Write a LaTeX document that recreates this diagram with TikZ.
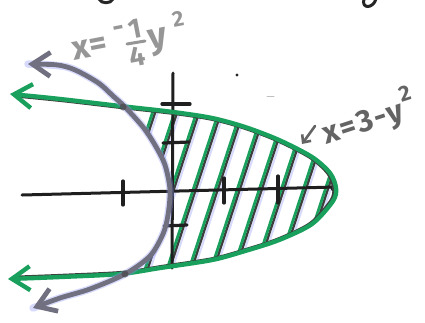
\documentclass[tikz,border=0pt]{standalone}
\usepackage{fontspec}
\setmainfont{Fira Sans}
\usetikzlibrary{arrows.meta}
\definecolor{mkgreen}{RGB}{24,160,92}
\definecolor{mkdark}{RGB}{62,62,62}
\definecolor{mkgray}{RGB}{112,112,128}
\definecolor{mkblue}{RGB}{140,150,245}
\definecolor{labgray}{RGB}{150,150,150}
\definecolor{labdark}{RGB}{100,100,100}
\begin{document}
\begin{tikzpicture}[x=1pt,y=-1pt,line cap=round,line join=round,
  axisline/.style={line width=3pt,black!88},
  tickmark/.style={line width=3.2pt,black!88},
  barbtips/.style={{Straight Barb[length=18pt,width=24pt]}-{Straight Barb[length=18pt,width=24pt]}},
  greencurve/.style={line width=4.4pt,mkgreen},
  greenshadow/.style={line width=2.4pt,mkdark},
  graycurve/.style={line width=4.8pt,mkgray},
  grayhalo/.style={line width=7.5pt,mkblue,opacity=0.35},
  hatchgreen/.style={line width=2.8pt,mkgreen},
  hatchdark/.style={line width=2.3pt,mkdark},
  hatchblue/.style={line width=2pt,mkblue,opacity=0.35},
  labone/.style={text=labgray,inner sep=0pt,rotate=11},
  labtwo/.style={text=labdark,inner sep=0pt,rotate=18,font=\bfseries\fontsize{31}{33}\selectfont},
  labarrow/.style={line width=2.6pt,labdark,-{Straight Barb[length=6pt,width=11pt]}}
]
\useasboundingbox (0,0) rectangle (425,322);
% hatching of the region between the curves
\begin{scope}
  \clip plot[smooth] coordinates {(10,94) (60,99) (120,106) (173,112) (212,118) (245,127) (279,140) (312,157) (330,173) (336,188) (333,201) (312,224) (279,240) (245,251) (212,260) (160,268) (120,274) (60,277) (8,279)} -- cycle;
  \clip plot[smooth] coordinates {(28,64) (67,67) (97,82) (113,96) (125,107) (143,127) (155,145) (165,165) (170,190) (168,215) (163,234) (150,256) (125,274) (90,289) (60,298) (33,308)} -- (450,308) -- (450,64) -- cycle;
  \foreach \c in {127,149,171,193,215,237,259,281,303,325}{
    \draw[hatchblue] (\c+41.5,80) -- (\c-27.5,290);
    \draw[hatchdark] (\c+38.8,80) -- (\c-30.2,290);
    \draw[hatchgreen] (\c+36.2,80) -- (\c-32.8,290);
  }
\end{scope}
% axes
\draw[axisline] (22,195) -- (336,187);
\draw[axisline] (173,73) -- (172,268);
\draw[tickmark] (123,181) -- (123,205);
\draw[tickmark] (224,178) -- (224,203);
\draw[tickmark] (278,176) -- (278,203);
\draw[tickmark] (162,104) -- (190,104);
\draw[tickmark] (163,143) -- (189,142);
\draw[tickmark] (164,226) -- (187,225);
\fill[black!88] (334,188) circle (3.5);
% green parabola x = 3 - y^2
\begin{scope}[shift={(225,190)},scale=0.976,shift={(-225,-190)}]
  \draw[greenshadow] plot[smooth] coordinates {(10,94) (60,99) (120,106) (173,112) (212,118) (245,127) (279,140) (312,157) (330,173) (336,188) (333,201) (312,224) (279,240) (245,251) (212,260) (160,268) (120,274) (60,277) (8,279)};
\end{scope}
\draw[greencurve,barbtips] plot[smooth] coordinates {(10,94) (60,99) (120,106) (173,112) (212,118) (245,127) (279,140) (312,157) (330,173) (336,188) (333,201) (312,224) (279,240) (245,251) (212,260) (160,268) (120,274) (60,277) (8,279)};
% gray parabola x = -1/4 y^2
\draw[grayhalo] plot[smooth] coordinates {(28,64) (67,67) (97,82) (113,96) (125,107) (143,127) (155,145) (165,165) (170,190) (168,215) (163,234) (150,256) (125,274) (90,289) (60,298) (33,308)};
\draw[graycurve,barbtips] plot[smooth] coordinates {(28,64) (67,67) (97,82) (113,96) (125,107) (143,127) (155,145) (165,165) (170,190) (168,215) (163,234) (150,256) (125,274) (90,289) (60,298) (33,308)};
\fill[mkdark,opacity=0.6] (123,107) circle (3.5);
\fill[mkdark,opacity=0.6] (125,274) circle (3.5);
% label x = -1/4 y^2
\node[labone,font=\bfseries\fontsize{34}{36}\selectfont] (eqx) at (90,48) {x=};
\node[labone,font=\bfseries\fontsize{28}{30}\selectfont] (eqminus) at (119,31) {-};
\node[labone,font=\bfseries\fontsize{28}{30}\selectfont] (eqnum) at (135,29) {1};
\coordinate (barl) at (127,44);
\coordinate (barr) at (145,41);
\draw[line width=3pt,labgray] (barl) -- (barr);
\node[labone,font=\bfseries\fontsize{28}{30}\selectfont] (eqden) at (137,56) {4};
\node[labone,font=\bfseries\fontsize{36}{38}\selectfont] (eqy) at (159,42) {y};
\node[labone,font=\bfseries\fontsize{22}{24}\selectfont] (eqsq) at (178,19) {2};
% label x = 3 - y^2
\node[labtwo] (eqtwo) at (368,118) {x\kern2pt=\kern2pt3\kern2pt-\kern1pty\kern1pt\raisebox{0.55em}{\fontsize{22}{22}\selectfont 2}};
\coordinate (arrowtail) at (315,126);
\coordinate (arrowtip) at (302,144);
\draw[labarrow] (arrowtail) -- (arrowtip);
% stray marks of the page
\draw[line width=3pt,black!85] (99,-1) .. controls (101,4) and (111,4) .. (113,-1);
\draw[line width=3pt,black!85] (364,-1) .. controls (361,9) and (373,9) .. (376,-1);
\fill[black!85] (237,75) circle (1.6);
\draw[line width=1pt,black!25] (267,96) -- (274,96);
\end{tikzpicture}
\end{document}
